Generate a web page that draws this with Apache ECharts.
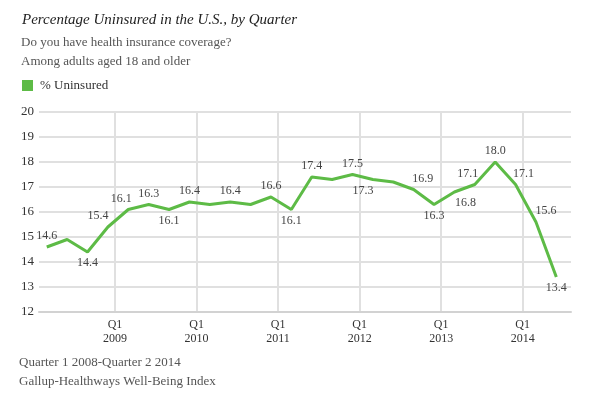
<!DOCTYPE html>
<html>
<head>
<meta charset="utf-8">
<script src="https://cdn.jsdelivr.net/npm/echarts@6/dist/echarts.min.js"></script>
<style>
  html, body { margin: 0; padding: 0; background: #fff; }
  #chart { width: 599px; height: 396px; }
</style>
</head>
<body>
<div id="chart"></div>
<script>
// Q1 2008 .. Q2 2014, one value per quarter
const quarters = [
  'Q1 2008','Q2 2008','Q3 2008','Q4 2008',
  'Q1 2009','Q2 2009','Q3 2009','Q4 2009',
  'Q1 2010','Q2 2010','Q3 2010','Q4 2010',
  'Q1 2011','Q2 2011','Q3 2011','Q4 2011',
  'Q1 2012','Q2 2012','Q3 2012','Q4 2012',
  'Q1 2013','Q2 2013','Q3 2013','Q4 2013',
  'Q1 2014','Q2 2014'
]
const uninsured = [
  14.6, 14.9, 14.4, 15.4,
  16.1, 16.3, 16.1, 16.4,
  16.3, 16.4, 16.3, 16.6,
  16.1, 17.4, 17.3, 17.5,
  17.3, 17.2, 16.9, 16.3,
  16.8, 17.1, 18.0, 17.1,
  15.6, 13.4
]
const yearTicks = ['2009', '2010', '2011', '2012', '2013', '2014']
const yTicks = [12, 13, 14, 15, 16, 17, 18, 19, 20]

// which points carry a value label, and where it sits
const labelStyle = {
  0: ['top', 0], 2: ['bottom', 0], 3: ['top', -10], 4: ['top', -7], 5: ['top', 0],
  6: ['bottom', 0], 7: ['top', 0], 9: ['top', 0], 11: ['top', 0], 12: ['bottom', 0],
  13: ['top', 0], 15: ['top', 0], 16: ['bottom', -10], 18: ['top', 9], 19: ['bottom', 0],
  20: ['bottom', 11], 21: ['top', -7], 22: ['top', 0], 23: ['top', 8], 24: ['top', 10],
  25: ['bottom', 0]
}

const serif = '"Liberation Serif", "DejaVu Serif", serif'
const green = '#5dbb46'

// gallup draws the year lines a little before each Q1 point
const yearPos = yearTicks.map(y => quarters.indexOf('Q1 ' + y) - 0.65)

const seriesData = uninsured.map((v, i) => {
  const s = labelStyle[i]
  const item = { value: [i, v] }
  if (s) item.label = { show: true, position: s[0], offset: [s[1], 0] }
  return item
})

const txt = (size, color, italic) => ({
  fontFamily: serif, fontWeight: 'normal', fontSize: size, color,
  fontStyle: italic ? 'italic' : 'normal',
})

const chart = echarts.init(document.getElementById('chart'))
chart.setOption({
  animation: false,
  textStyle: { fontFamily: serif },
  title: [
    { text: 'Percentage Uninsured in the U.S., by Quarter', left: 22, top: 13, padding: 0,
      textStyle: txt(15, '#222', true) },
    { text: 'Do you have health insurance coverage?', left: 21, top: 36, padding: 0,
      textStyle: txt(13, '#555') },
    { text: 'Among adults aged 18 and older', left: 21, top: 55, padding: 0,
      textStyle: txt(13, '#555') },
    { text: 'Quarter 1 2008-Quarter 2 2014', left: 19, top: 356, padding: 0,
      textStyle: txt(13, '#555') },
    { text: 'Gallup-Healthways Well-Being Index', left: 19, top: 375, padding: 0,
      textStyle: txt(13, '#555') },
  ],
  legend: {
    left: 22, top: 79, padding: 0, icon: 'rect', itemWidth: 11, itemHeight: 11, itemGap: 8,
    textStyle: { fontFamily: serif, fontSize: 13, color: '#333', padding: [0, 0, 0, 2] },
    data: ['% Uninsured'],
  },
  grid: { left: 39, right: 28, top: 112, bottom: 84 },
  xAxis: {
    type: 'value', min: -0.38, max: 25.72,
    axisLine: { show: true, lineStyle: { color: '#d2d2d2', width: 2 } },
    axisTick: { show: false, customValues: yearPos },
    splitLine: { show: true, lineStyle: { color: '#e0e0e0', width: 2 } },
    axisLabel: {
      customValues: yearPos, margin: 6, color: '#333', fontSize: 12, lineHeight: 14,
      formatter: (v) => {
        const k = yearPos.findIndex(p => Math.abs(p - v) < 1e-6)
        return k >= 0 ? 'Q1\n' + yearTicks[k] : ''
      },
    },
  },
  yAxis: {
    type: 'value', min: yTicks[0], max: yTicks[yTicks.length - 1], interval: 1,
    axisLine: { show: false }, axisTick: { show: false },
    axisLabel: { color: '#333', fontSize: 13, margin: 5 },
    splitLine: { lineStyle: { color: '#e0e0e0', width: 2 } },
  },
  series: [{
    name: '% Uninsured', type: 'line', data: seriesData,
    symbol: 'circle', symbolSize: 0, showSymbol: true,
    lineStyle: { color: green, width: 3 }, itemStyle: { color: green },
    label: { show: false, fontSize: 12, color: '#444', distance: 5, formatter: (p) => p.value[1].toFixed(1) },
  }],
})
</script>
</body>
</html>
